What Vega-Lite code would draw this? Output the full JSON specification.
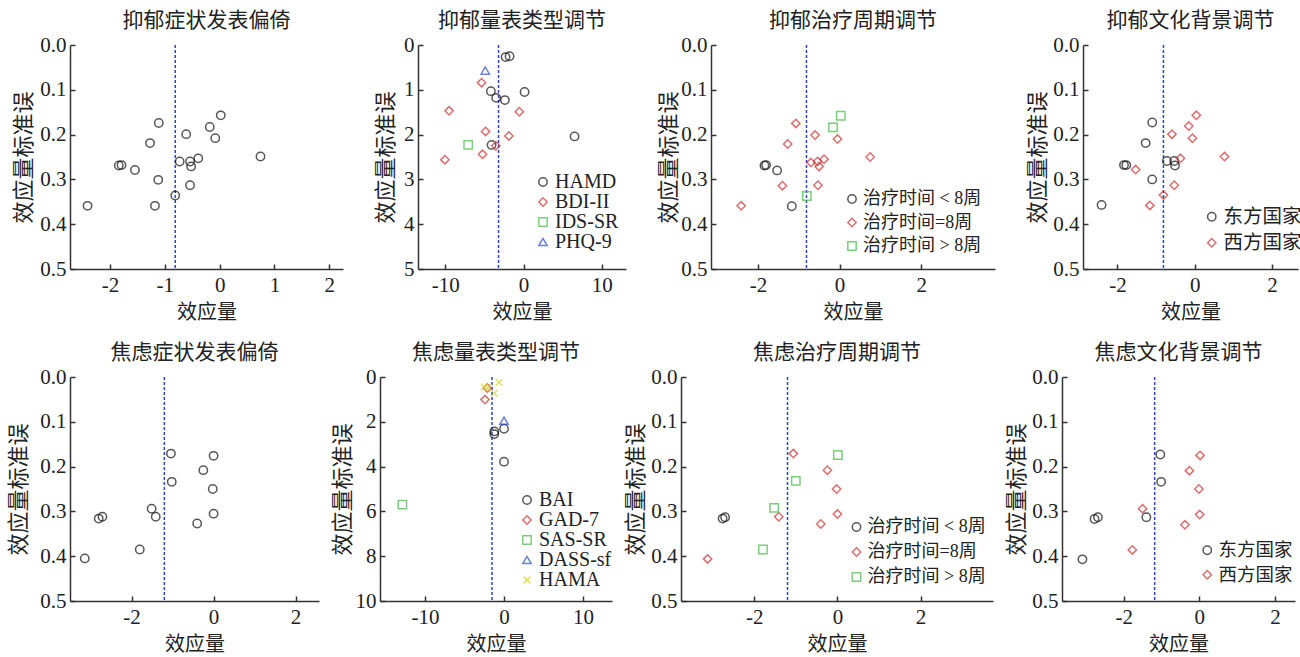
{
  "$schema": "https://vega.github.io/schema/vega-lite/v6.json",
  "padding": {"left": 7, "top": 10, "right": 0, "bottom": 6},
  "background": "white",
  "config": {
    "view": {"stroke": null},
    "axis": {"grid": false, "domainColor": "#333", "domainWidth": 1.5, "tickColor": "#333", "tickWidth": 1.5, "tickSize": -5, "labelPadding": 9, "labelFont": "Liberation Serif", "labelFontSize": 21, "labelColor": "#222", "titleFont": "Noto Sans CJK SC", "titleFontSize": 21, "titleFontWeight": "normal", "titleColor": "#222", "titlePadding": 4},
    "axisX": {"labelPadding": 10, "titlePadding": 7, "titleFontSize": 20},
    "axisY": {"titleFontSize": 22},
    "title": {"font": "Noto Sans CJK SC", "fontSize": 21, "fontWeight": "normal", "color": "#222", "frame": "group", "offset": 3},
    "legend": {"labelFont": "Liberation Serif, Noto Sans CJK SC", "labelFontSize": 20, "labelColor": "#222", "symbolStrokeWidth": 1.5, "symbolSize": 70, "rowPadding": -1, "labelOffset": 2, "orient": "none", "title": null},
    "point": {"filled": false, "strokeWidth": 1.5, "size": 70}
  },
  "datasets": {
    "d1": [
      {"es": -2.41, "se": 0.359}, {"es": -1.84, "se": 0.269}, {"es": -1.79, "se": 0.268}, {"es": -1.545, "se": 0.279}, {"es": -1.27, "se": 0.219}, {"es": -1.11, "se": 0.174}, {"es": -1.12, "se": 0.301}, {"es": -1.18, "se": 0.359}, {"es": -0.81, "se": 0.336}, {"es": -0.73, "se": 0.26}, {"es": -0.61, "se": 0.199}, {"es": -0.54, "se": 0.26}, {"es": -0.52, "se": 0.271}, {"es": -0.54, "se": 0.313}, {"es": -0.39, "se": 0.253}, {"es": -0.18, "se": 0.183}, {"es": -0.08, "se": 0.208}, {"es": 0.02, "se": 0.157}, {"es": 0.745, "se": 0.249}
    ],
    "d2": [
      {"es": -2.3, "se": 0.27, "g": "HAMD"}, {"es": -1.79, "se": 0.25, "g": "HAMD"}, {"es": -4.18, "se": 1.03, "g": "HAMD"}, {"es": -3.5, "se": 1.18, "g": "HAMD"}, {"es": -2.39, "se": 1.23, "g": "HAMD"}, {"es": 0.13, "se": 1.05, "g": "HAMD"}, {"es": -4.09, "se": 2.23, "g": "HAMD"}, {"es": 6.52, "se": 2.04, "g": "HAMD"},
      {"es": -5.37, "se": 0.84, "g": "BDI-II"}, {"es": -9.53, "se": 1.47, "g": "BDI-II"}, {"es": -0.55, "se": 1.49, "g": "BDI-II"}, {"es": -4.86, "se": 1.93, "g": "BDI-II"}, {"es": -1.88, "se": 2.03, "g": "BDI-II"}, {"es": -3.54, "se": 2.25, "g": "BDI-II"}, {"es": -5.25, "se": 2.44, "g": "BDI-II"}, {"es": -10.06, "se": 2.56, "g": "BDI-II"},
      {"es": -7.08, "se": 2.23, "g": "IDS-SR"},
      {"es": -4.9, "se": 0.57, "g": "PHQ-9"}
    ],
    "d3": [
      {"es": -1.84, "se": 0.269, "g": "治疗时间 < 8周"}, {"es": -1.8, "se": 0.268, "g": "治疗时间 < 8周"}, {"es": -1.53, "se": 0.28, "g": "治疗时间 < 8周"}, {"es": -1.17, "se": 0.36, "g": "治疗时间 < 8周"},
      {"es": -1.07, "se": 0.175, "g": "治疗时间=8周"}, {"es": -1.27, "se": 0.221, "g": "治疗时间=8周"}, {"es": -0.6, "se": 0.201, "g": "治疗时间=8周"}, {"es": -0.05, "se": 0.21, "g": "治疗时间=8周"}, {"es": -0.7, "se": 0.262, "g": "治疗时间=8周"}, {"es": -0.54, "se": 0.26, "g": "治疗时间=8周"}, {"es": -0.5, "se": 0.271, "g": "治疗时间=8周"}, {"es": -0.38, "se": 0.255, "g": "治疗时间=8周"}, {"es": -1.4, "se": 0.314, "g": "治疗时间=8周"}, {"es": -0.53, "se": 0.313, "g": "治疗时间=8周"}, {"es": 0.75, "se": 0.25, "g": "治疗时间=8周"}, {"es": -2.41, "se": 0.359, "g": "治疗时间=8周"},
      {"es": 0.03, "se": 0.158, "g": "治疗时间 > 8周"}, {"es": -0.16, "se": 0.184, "g": "治疗时间 > 8周"}, {"es": -0.8, "se": 0.337, "g": "治疗时间 > 8周"}
    ],
    "d4": [
      {"es": -2.41, "se": 0.357, "g": "东方国家"}, {"es": -1.83, "se": 0.268, "g": "东方国家"}, {"es": -1.77, "se": 0.268, "g": "东方国家"}, {"es": -1.27, "se": 0.219, "g": "东方国家"}, {"es": -1.1, "se": 0.173, "g": "东方国家"}, {"es": -1.1, "se": 0.3, "g": "东方国家"}, {"es": -0.72, "se": 0.259, "g": "东方国家"}, {"es": -0.53, "se": 0.259, "g": "东方国家"}, {"es": -0.51, "se": 0.269, "g": "东方国家"},
      {"es": -1.53, "se": 0.278, "g": "西方国家"}, {"es": -1.16, "se": 0.358, "g": "西方国家"}, {"es": -0.81, "se": 0.335, "g": "西方国家"}, {"es": -0.59, "se": 0.199, "g": "西方国家"}, {"es": -0.53, "se": 0.313, "g": "西方国家"}, {"es": -0.37, "se": 0.253, "g": "西方国家"}, {"es": -0.155, "se": 0.181, "g": "西方国家"}, {"es": -0.06, "se": 0.208, "g": "西方国家"}, {"es": 0.04, "se": 0.157, "g": "西方国家"}, {"es": 0.77, "se": 0.249, "g": "西方国家"}
    ],
    "d5": [
      {"es": -3.14, "se": 0.405}, {"es": -2.8, "se": 0.316}, {"es": -2.71, "se": 0.312}, {"es": -1.8, "se": 0.385}, {"es": -1.51, "se": 0.294}, {"es": -1.41, "se": 0.312}, {"es": -1.04, "se": 0.171}, {"es": -1.02, "se": 0.234}, {"es": -0.25, "se": 0.208}, {"es": -0.4, "se": 0.327}, {"es": 0.0, "se": 0.176}, {"es": -0.02, "se": 0.25}, {"es": 0.0, "se": 0.305}
    ],
    "d6": [
      {"es": -1.23, "se": 2.43, "g": "BAI"}, {"es": -1.23, "se": 2.55, "g": "BAI"}, {"es": 0.0, "se": 2.31, "g": "BAI"}, {"es": 0.0, "se": 3.78, "g": "BAI"},
      {"es": -2.11, "se": 0.49, "g": "GAD-7"}, {"es": -2.41, "se": 1.01, "g": "GAD-7"},
      {"es": -12.87, "se": 5.7, "g": "SAS-SR"},
      {"es": 0.0, "se": 1.95, "g": "DASS-sf"},
      {"es": -2.5, "se": 0.45, "g": "HAMA"}, {"es": -2.0, "se": 0.47, "g": "HAMA"}, {"es": -0.63, "se": 0.24, "g": "HAMA"}, {"es": -1.23, "se": 0.72, "g": "HAMA"}
    ],
    "d7": [
      {"es": -2.76, "se": 0.316, "g": "治疗时间 < 8周"}, {"es": -2.7, "se": 0.313, "g": "治疗时间 < 8周"},
      {"es": -1.06, "se": 0.171, "g": "治疗时间=8周"}, {"es": -0.24, "se": 0.208, "g": "治疗时间=8周"}, {"es": -0.02, "se": 0.25, "g": "治疗时间=8周"}, {"es": 0.0, "se": 0.306, "g": "治疗时间=8周"}, {"es": -0.4, "se": 0.328, "g": "治疗时间=8周"}, {"es": -1.41, "se": 0.312, "g": "治疗时间=8周"}, {"es": -3.12, "se": 0.406, "g": "治疗时间=8周"},
      {"es": 0.01, "se": 0.174, "g": "治疗时间 > 8周"}, {"es": -1.0, "se": 0.232, "g": "治疗时间 > 8周"}, {"es": -1.52, "se": 0.292, "g": "治疗时间 > 8周"}, {"es": -1.79, "se": 0.385, "g": "治疗时间 > 8周"}
    ],
    "d8": [
      {"es": -3.09, "se": 0.407, "g": "东方国家"}, {"es": -2.77, "se": 0.317, "g": "东方国家"}, {"es": -2.68, "se": 0.313, "g": "东方国家"}, {"es": -1.4, "se": 0.313, "g": "东方国家"}, {"es": -1.03, "se": 0.173, "g": "东方国家"}, {"es": -1.01, "se": 0.234, "g": "东方国家"},
      {"es": -1.77, "se": 0.386, "g": "西方国家"}, {"es": -1.5, "se": 0.294, "g": "西方国家"}, {"es": -0.26, "se": 0.209, "g": "西方国家"}, {"es": -0.38, "se": 0.33, "g": "西方国家"}, {"es": -0.01, "se": 0.25, "g": "西方国家"}, {"es": 0.02, "se": 0.175, "g": "西方国家"}, {"es": 0.01, "se": 0.307, "g": "西方国家"}
    ],
    "p1": [{"es": -0.81}], "p2": [{"es": -3.2}], "p3": [{"es": -0.81}], "p4": [{"es": -0.81}],
    "p5": [{"es": -1.2}], "p6": [{"es": -1.52}], "p7": [{"es": -1.2}], "p8": [{"es": -1.18}]
  },
  "resolve": {"scale": {"color": "independent", "shape": "independent"}},
  "spacing": 20,
  "vconcat": [
    {
      "spacing": 31,
      "resolve": {"scale": {"color": "independent", "shape": "independent"}},
      "hconcat": [
        {
          "width": 273, "height": 224, "title": "抑郁症状发表偏倚",
          "layer": [
            {"data": {"name": "p1"}, "mark": {"type": "rule", "color": "#2b46c9", "strokeWidth": 1.5, "strokeDash": [3, 2]}, "encoding": {"x": {"field": "es", "type": "quantitative"}}},
            {"data": {"name": "d1"}, "mark": {"type": "point", "color": "#111"},
             "encoding": {
               "x": {"field": "es", "type": "quantitative", "scale": {"domain": [-2.73, 2.25], "nice": false, "zero": false}, "axis": {"title": "效应量", "values": [-2, -1, 0, 1, 2], "labelExpr": "'' + datum.value"}},
               "y": {"field": "se", "type": "quantitative", "scale": {"domain": [0, 0.5], "reverse": true, "nice": false}, "axis": {"title": "效应量标准误", "values": [0, 0.1, 0.2, 0.3, 0.4, 0.5], "format": ".1f", "titlePadding": 4}}
             }}
          ]
        },
        {
          "width": 208, "height": 224, "title": "抑郁量表类型调节",
          "layer": [
            {"data": {"name": "p2"}, "mark": {"type": "rule", "color": "#2b46c9", "strokeWidth": 1.5, "strokeDash": [3, 2]}, "encoding": {"x": {"field": "es", "type": "quantitative"}}},
            {"data": {"name": "d2"}, "mark": {"type": "point"},
             "encoding": {
               "x": {"field": "es", "type": "quantitative", "scale": {"domain": [-13.5, 13.1], "nice": false, "zero": false}, "axis": {"title": "效应量", "values": [-10, 0, 10], "labelExpr": "'' + datum.value"}},
               "y": {"field": "se", "type": "quantitative", "scale": {"domain": [0, 5], "reverse": true, "nice": false}, "axis": {"title": "效应量标准误", "values": [0, 1, 2, 3, 4, 5], "titlePadding": 6.5}},
               "color": {"field": "g", "type": "nominal", "scale": {"domain": ["HAMD", "BDI-II", "IDS-SR", "PHQ-9"], "range": ["#111111", "#cc3333", "#44bb44", "#2f4fc4"]}, "legend": {"legendX": 115, "legendY": 127}},
               "shape": {"field": "g", "type": "nominal", "scale": {"domain": ["HAMD", "BDI-II", "IDS-SR", "PHQ-9"], "range": ["circle", "diamond", "square", "triangle-up"]}, "legend": {"legendX": 115, "legendY": 127}}
             }}
          ]
        },
        {
          "width": 284, "height": 224, "title": "抑郁治疗周期调节",
          "layer": [
            {"data": {"name": "p3"}, "mark": {"type": "rule", "color": "#2b46c9", "strokeWidth": 1.5, "strokeDash": [3, 2]}, "encoding": {"x": {"field": "es", "type": "quantitative"}}},
            {"data": {"name": "d3"}, "mark": {"type": "point"},
             "encoding": {
               "x": {"field": "es", "type": "quantitative", "scale": {"domain": [-3.15, 3.81], "nice": false, "zero": false}, "axis": {"title": "效应量", "values": [-2, 0, 2], "labelExpr": "'' + datum.value"}},
               "y": {"field": "se", "type": "quantitative", "scale": {"domain": [0, 0.5], "reverse": true, "nice": false}, "axis": {"title": "效应量标准误", "values": [0, 0.1, 0.2, 0.3, 0.4, 0.5], "format": ".1f", "titlePadding": 0}},
               "color": {"field": "g", "type": "nominal", "scale": {"domain": ["治疗时间 < 8周", "治疗时间=8周", "治疗时间 > 8周"], "range": ["#111111", "#cc3333", "#44bb44"]}, "legend": {"legendX": 132, "legendY": 145, "rowPadding": 5.5, "labelFontSize": 18}},
               "shape": {"field": "g", "type": "nominal", "scale": {"domain": ["治疗时间 < 8周", "治疗时间=8周", "治疗时间 > 8周"], "range": ["circle", "diamond", "square"]}, "legend": {"legendX": 132, "legendY": 145, "rowPadding": 5.5, "labelFontSize": 18}}
             }}
          ]
        },
        {
          "width": 215, "height": 224, "title": "抑郁文化背景调节",
          "layer": [
            {"data": {"name": "p4"}, "mark": {"type": "rule", "color": "#2b46c9", "strokeWidth": 1.5, "strokeDash": [3, 2]}, "encoding": {"x": {"field": "es", "type": "quantitative"}}},
            {"data": {"name": "d4"}, "mark": {"type": "point"},
             "encoding": {
               "x": {"field": "es", "type": "quantitative", "scale": {"domain": [-2.89, 2.67], "nice": false, "zero": false}, "axis": {"title": "效应量", "values": [-2, 0, 2], "labelExpr": "'' + datum.value"}},
               "y": {"field": "se", "type": "quantitative", "scale": {"domain": [0, 0.5], "reverse": true, "nice": false}, "axis": {"title": "效应量标准误", "values": [0, 0.1, 0.2, 0.3, 0.4, 0.5], "format": ".1f", "titlePadding": 3}},
               "color": {"field": "g", "type": "nominal", "scale": {"domain": ["东方国家", "西方国家"], "range": ["#111111", "#cc3333"]}, "legend": {"legendX": 119, "legendY": 162, "rowPadding": 5, "labelFontSize": 19.5}},
               "shape": {"field": "g", "type": "nominal", "scale": {"domain": ["东方国家", "西方国家"], "range": ["circle", "diamond"]}, "legend": {"legendX": 119, "legendY": 162, "rowPadding": 5, "labelFontSize": 19.5}}
             }}
          ]
        }
      ]
    },
    {
      "spacing": 12,
      "resolve": {"scale": {"color": "independent", "shape": "independent"}},
      "hconcat": [
        {
          "width": 249, "height": 224, "title": "焦虑症状发表偏倚",
          "layer": [
            {"data": {"name": "p5"}, "mark": {"type": "rule", "color": "#2b46c9", "strokeWidth": 1.5, "strokeDash": [3, 2]}, "encoding": {"x": {"field": "es", "type": "quantitative"}}},
            {"data": {"name": "d5"}, "mark": {"type": "point", "color": "#111"},
             "encoding": {
               "x": {"field": "es", "type": "quantitative", "scale": {"domain": [-3.5, 2.57], "nice": false, "zero": false}, "axis": {"title": "效应量", "values": [-2, 0, 2], "labelExpr": "'' + datum.value"}},
               "y": {"field": "se", "type": "quantitative", "scale": {"domain": [0, 0.5], "reverse": true, "nice": false}, "axis": {"title": "效应量标准误", "values": [0, 0.1, 0.2, 0.3, 0.4, 0.5], "format": ".1f", "titlePadding": 9.2}}
             }}
          ]
        },
        {
          "width": 232, "height": 224, "title": "焦虑量表类型调节",
          "layer": [
            {"data": {"name": "p6"}, "mark": {"type": "rule", "color": "#2b46c9", "strokeWidth": 1.5, "strokeDash": [3, 2]}, "encoding": {"x": {"field": "es", "type": "quantitative"}}},
            {"data": {"name": "d6"}, "mark": {"type": "point"},
             "encoding": {
               "x": {"field": "es", "type": "quantitative", "scale": {"domain": [-15.7, 13.67], "nice": false, "zero": false}, "axis": {"title": "效应量", "values": [-10, 0, 10], "labelExpr": "'' + datum.value"}},
               "y": {"field": "se", "type": "quantitative", "scale": {"domain": [0, 10], "reverse": true, "nice": false}, "axis": {"title": "效应量标准误", "values": [0, 2, 4, 6, 8, 10], "titlePadding": 0.4}},
               "color": {"field": "g", "type": "nominal", "scale": {"domain": ["BAI", "GAD-7", "SAS-SR", "DASS-sf", "HAMA"], "range": ["#111111", "#cc3333", "#44bb44", "#2f4fc4", "#d4d42a"]}, "legend": {"legendX": 137, "legendY": 113, "rowPadding": -1.5}},
               "shape": {"field": "g", "type": "nominal", "scale": {"domain": ["BAI", "GAD-7", "SAS-SR", "DASS-sf", "HAMA"], "range": ["circle", "diamond", "square", "triangle-up", "M-0.8,-0.8L0.8,0.8M0.8,-0.8L-0.8,0.8"]}, "legend": {"legendX": 137, "legendY": 113, "rowPadding": -1.5}}
             }}
          ]
        },
        {
          "width": 312, "height": 224, "title": "焦虑治疗周期调节",
          "layer": [
            {"data": {"name": "p7"}, "mark": {"type": "rule", "color": "#2b46c9", "strokeWidth": 1.5, "strokeDash": [3, 2]}, "encoding": {"x": {"field": "es", "type": "quantitative"}}},
            {"data": {"name": "d7"}, "mark": {"type": "point"},
             "encoding": {
               "x": {"field": "es", "type": "quantitative", "scale": {"domain": [-3.76, 3.74], "nice": false, "zero": false}, "axis": {"title": "效应量", "values": [-2, 0, 2], "labelExpr": "'' + datum.value"}},
               "y": {"field": "se", "type": "quantitative", "scale": {"domain": [0, 0.5], "reverse": true, "nice": false}, "axis": {"title": "效应量标准误", "values": [0, 0.1, 0.2, 0.3, 0.4, 0.5], "format": ".1f", "titlePadding": 3.4}},
               "color": {"field": "g", "type": "nominal", "scale": {"domain": ["治疗时间 < 8周", "治疗时间=8周", "治疗时间 > 8周"], "range": ["#111111", "#cc3333", "#44bb44"]}, "legend": {"legendX": 166.5, "legendY": 141, "rowPadding": 7, "labelFontSize": 18}},
               "shape": {"field": "g", "type": "nominal", "scale": {"domain": ["治疗时间 < 8周", "治疗时间=8周", "治疗时间 > 8周"], "range": ["circle", "diamond", "square"]}, "legend": {"legendX": 166.5, "legendY": 141, "rowPadding": 7, "labelFontSize": 18}}
             }}
          ]
        },
        {
          "width": 233, "height": 224, "title": "焦虑文化背景调节",
          "layer": [
            {"data": {"name": "p8"}, "mark": {"type": "rule", "color": "#2b46c9", "strokeWidth": 1.5, "strokeDash": [3, 2]}, "encoding": {"x": {"field": "es", "type": "quantitative"}}},
            {"data": {"name": "d8"}, "mark": {"type": "point"},
             "encoding": {
               "x": {"field": "es", "type": "quantitative", "scale": {"domain": [-3.63, 2.53], "nice": false, "zero": false}, "axis": {"title": "效应量", "values": [-2, 0, 2], "labelExpr": "'' + datum.value"}},
               "y": {"field": "se", "type": "quantitative", "scale": {"domain": [0, 0.5], "reverse": true, "nice": false}, "axis": {"title": "效应量标准误", "values": [0, 0.1, 0.2, 0.3, 0.4, 0.5], "format": ".1f", "titlePadding": 3}},
               "color": {"field": "g", "type": "nominal", "scale": {"domain": ["东方国家", "西方国家"], "range": ["#111111", "#cc3333"]}, "legend": {"legendX": 136, "legendY": 164, "rowPadding": 5.5, "labelFontSize": 18.5}},
               "shape": {"field": "g", "type": "nominal", "scale": {"domain": ["东方国家", "西方国家"], "range": ["circle", "diamond"]}, "legend": {"legendX": 136, "legendY": 164, "rowPadding": 5.5, "labelFontSize": 18.5}}
             }}
          ]
        }
      ]
    }
  ]
}
